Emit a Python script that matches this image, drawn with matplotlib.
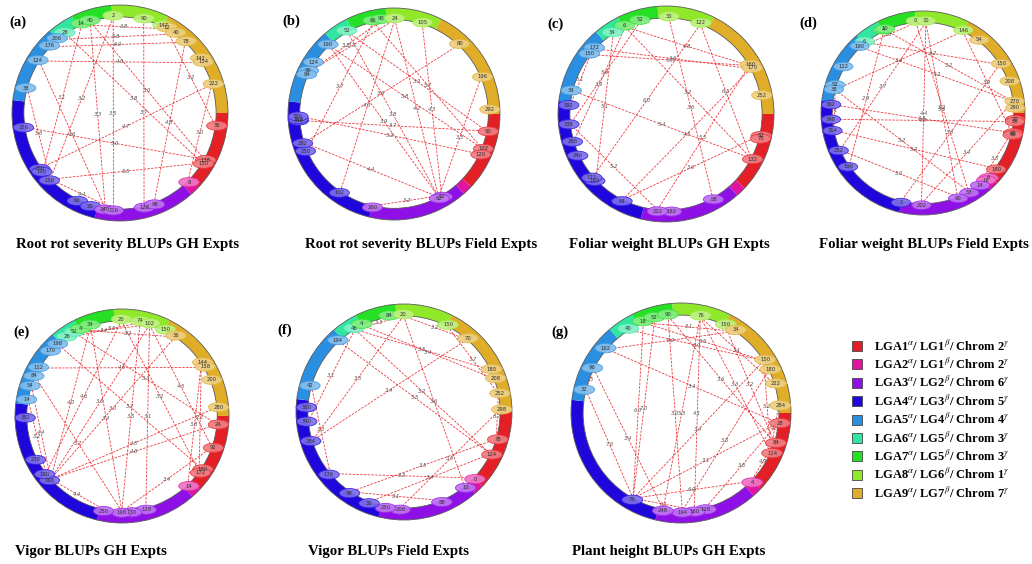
import numpy as np
import matplotlib
matplotlib.use("Agg")
import matplotlib.pyplot as plt
from matplotlib.patches import Wedge, Ellipse, Rectangle
from matplotlib.colors import to_rgb

plt.rcParams['mathtext.fontset'] = 'stix'
SERIF = ['Liberation Serif', 'DejaVu Serif']

# linkage groups (cM lengths) in drawing order, clockwise from 3 o'clock
lg_lengths = [208, 26, 262, 400, 205, 67, 105, 148, 305]
lg_colours = ['#e41f26', '#e2139f', '#8f10e6', '#1f06dc', '#2a8fe0',
              '#30e6a0', '#25e025', '#90e82a', '#e0ad28']
lg_legend = [
    r'LGA1$^{\alpha}$/ LG1$^{\beta}$/ Chrom 2$^{\gamma}$',
    r'LGA2$^{\alpha}$/ LG1$^{\beta}$/ Chrom 2$^{\gamma}$',
    r'LGA3$^{\alpha}$/ LG2$^{\beta}$/ Chrom 6$^{\gamma}$',
    r'LGA4$^{\alpha}$/ LG3$^{\beta}$/ Chrom 5$^{\gamma}$',
    r'LGA5$^{\alpha}$/ LG4$^{\beta}$/ Chrom 4$^{\gamma}$',
    r'LGA6$^{\alpha}$/ LG5$^{\beta}$/ Chrom 3$^{\gamma}$',
    r'LGA7$^{\alpha}$/ LG5$^{\beta}$/ Chrom 3$^{\gamma}$',
    r'LGA8$^{\alpha}$/ LG6$^{\beta}$/ Chrom 1$^{\gamma}$',
    r'LGA9$^{\alpha}$/ LG7$^{\beta}$/ Chrom 7$^{\gamma}$',
]

# markers: (linkage group, position cM); links: (marker, marker, LOD)
panel_a_markers = [(8, 2), (8, 90), (8, 147), (7, 14), (7, 40), (6, 28), (5, 206), (5, 176),
                   (5, 124), (5, 38), (4, 326), (4, 200), (4, 190), (4, 158), (4, 60), (4, 20),
                   (3, 240), (3, 216), (3, 128), (3, 98), (2, 8), (1, 36), (1, 138), (1, 150),
                   (9, 12), (9, 40), (9, 78), (9, 141), (9, 154), (9, 222)]
panel_a_links = [((7, 14), (9, 12), 3.8), ((5, 206), (9, 40), 5.8), ((5, 176), (9, 78), 6.0),
                 ((5, 124), (9, 154), 4.0), ((7, 14), (4, 190), 3.1), ((8, 2), (4, 158), 3.2),
                 ((7, 40), (3, 240), 3.3), ((8, 2), (3, 216), 3.5), ((8, 90), (3, 128), 3.7),
                 ((6, 28), (1, 150), 3.8), ((4, 200), (9, 222), 4.7), ((5, 124), (3, 240), 4.6),
                 ((5, 38), (4, 158), 5.6), ((4, 326), (1, 138), 5.0), ((4, 158), (1, 150), 5.5),
                 ((9, 222), (2, 8), 3.0), ((9, 78), (3, 98), 4.8), ((9, 12), (1, 36), 3.2),
                 ((7, 40), (1, 138), 3.0), ((4, 158), (3, 216), 4.4)]

panel_b_markers = [(6, 52), (7, 66), (7, 90), (8, 24), (8, 105), (9, 80), (9, 196), (9, 292),
                   (1, 50), (1, 102), (1, 120), (3, 52), (3, 62), (3, 260), (4, 102), (4, 258),
                   (4, 282), (4, 348), (4, 352), (4, 360), (5, 190), (5, 124), (5, 96), (5, 84)]
panel_b_links = [((6, 52), (1, 50), 3.9), ((5, 190), (1, 102), 3.8), ((5, 190), (3, 62), 3.9),
                 ((5, 96), (8, 24), 3.3), ((5, 96), (7, 90), 3.2), ((4, 360), (1, 120), 5.2),
                 ((4, 282), (9, 80), 3.6), ((4, 282), (3, 62), 4.4), ((4, 102), (8, 24), 4.0),
                 ((3, 260), (3, 52), 3.2), ((8, 24), (3, 62), 4.2), ((8, 105), (3, 52), 4.3),
                 ((7, 66), (1, 102), 5.7), ((9, 196), (3, 62), 3.5), ((7, 66), (4, 258), 3.7),
                 ((4, 348), (1, 50), 3.7), ((6, 52), (3, 62), 3.8)]

panel_c_markers = [(7, 6), (7, 52), (6, 34), (8, 30), (8, 122), (9, 160), (9, 170), (9, 252),
                   (1, 62), (1, 70), (1, 132), (3, 58), (3, 182), (3, 222), (4, 64), (4, 160),
                   (4, 172), (4, 246), (4, 288), (4, 338), (4, 392), (5, 172), (5, 150), (5, 34)]
panel_c_links = [((5, 150), (9, 160), 5.7), ((7, 6), (9, 160), 4.8), ((5, 172), (9, 170), 3.6),
                 ((7, 6), (4, 288), 3.9), ((7, 52), (4, 338), 5.9), ((5, 150), (4, 392), 5.1),
                 ((7, 6), (1, 132), 3.2), ((8, 122), (1, 132), 6.5), ((4, 172), (8, 122), 6.0),
                 ((8, 30), (3, 58), 3.6), ((5, 34), (1, 132), 5.4), ((4, 64), (9, 170), 4.5),
                 ((3, 222), (9, 160), 5.5), ((4, 64), (1, 62), 3.6), ((4, 338), (3, 222), 5.2),
                 ((6, 34), (4, 160), 5.1)]

panel_d_markers = [(7, 4), (7, 10), (6, 6), (8, 0), (8, 30), (8, 146), (9, 54), (9, 150),
                   (9, 208), (9, 270), (9, 290), (1, 20), (1, 26), (1, 60), (1, 66), (1, 180),
                   (2, 6), (2, 16), (3, 14), (3, 53), (3, 90), (3, 202), (4, 2), (4, 196),
                   (4, 252), (4, 314), (4, 348), (4, 392), (5, 190), (5, 112), (5, 52), (5, 38)]
panel_d_links = [((8, 0), (5, 190), 3.6), ((6, 6), (9, 150), 5.2), ((7, 10), (9, 270), 3.2),
                 ((5, 190), (9, 270), 5.2), ((8, 146), (5, 38), 3.4), ((8, 30), (4, 252), 3.7),
                 ((7, 4), (4, 196), 2.9), ((8, 146), (1, 60), 3.9), ((5, 38), (4, 314), 5.1),
                 ((8, 30), (3, 202), 4.4), ((8, 30), (3, 90), 5.3), ((8, 0), (3, 53), 5.2),
                 ((4, 392), (1, 60), 3.3), ((4, 348), (1, 26), 4.3), ((9, 150), (4, 2), 3.3),
                 ((9, 270), (3, 202), 3.4), ((1, 60), (3, 14), 3.5), ((4, 252), (3, 90), 5.0),
                 ((4, 314), (1, 180), 3.2), ((5, 38), (3, 53), 3.2)]

panel_e_markers = [(6, 26), (6, 52), (7, 4), (7, 34), (8, 20), (8, 74), (8, 102), (8, 150),
                   (9, 36), (9, 144), (9, 158), (9, 200), (9, 280), (1, 24), (1, 92), (1, 160),
                   (1, 172), (2, 14), (3, 128), (3, 170), (3, 198), (3, 250), (4, 168), (4, 190),
                   (4, 238), (4, 362), (5, 14), (5, 54), (5, 84), (5, 112), (5, 170), (5, 198)]
panel_e_links = [((6, 52), (8, 102), 5.5), ((7, 4), (9, 36), 3.2), ((6, 26), (8, 74), 3.4),
                 ((5, 112), (9, 158), 4.5), ((6, 52), (1, 24), 3.3), ((8, 20), (1, 172), 3.2),
                 ((5, 198), (1, 160), 3.7), ((7, 34), (4, 168), 4.0), ((8, 20), (4, 190), 4.6),
                 ((7, 34), (3, 198), 3.4), ((8, 102), (4, 168), 3.5), ((9, 36), (4, 168), 3.0),
                 ((8, 102), (3, 128), 3.1), ((8, 74), (3, 198), 3.5), ((9, 144), (1, 172), 2.2),
                 ((9, 144), (2, 14), 3.8), ((4, 168), (1, 24), 4.6), ((4, 168), (9, 280), 4.5),
                 ((5, 54), (4, 168), 4.4), ((5, 14), (4, 190), 3.2), ((5, 84), (3, 198), 3.7),
                 ((1, 92), (3, 198), 3.4), ((4, 168), (3, 250), 4.4), ((3, 198), (3, 128), 3.3),
                 ((8, 102), (1, 92), 4.5)]

panel_f_markers = [(6, 46), (7, 4), (7, 84), (8, 20), (8, 150), (9, 70), (9, 180), (9, 208),
                   (9, 252), (9, 298), (1, 78), (1, 124), (2, 0), (3, 10), (3, 88), (3, 208),
                   (3, 250), (4, 36), (4, 98), (4, 176), (4, 284), (4, 340), (4, 380), (5, 42),
                   (5, 194)]
panel_f_links = [((6, 46), (8, 20), 3.3), ((8, 20), (9, 70), 3.2), ((6, 46), (9, 180), 3.5),
                 ((7, 4), (9, 208), 3.4), ((8, 150), (9, 252), 3.7), ((6, 46), (4, 340), 3.1),
                 ((8, 20), (4, 284), 3.5), ((9, 70), (4, 284), 3.4), ((5, 194), (1, 124), 3.5),
                 ((8, 20), (3, 10), 3.6), ((6, 46), (1, 124), 3.2), ((9, 252), (1, 78), 3.7),
                 ((5, 42), (4, 176), 3.3), ((1, 78), (4, 98), 3.5), ((9, 298), (3, 208), 3.5),
                 ((1, 124), (4, 36), 3.4), ((4, 176), (2, 0), 3.3), ((4, 98), (3, 88), 3.1)]

panel_g_markers = [(6, 40), (7, 18), (7, 52), (7, 90), (8, 76), (8, 150), (9, 34), (9, 150),
                   (9, 180), (9, 222), (9, 284), (1, 28), (1, 84), (1, 114), (2, 4), (3, 128),
                   (3, 160), (3, 194), (3, 248), (4, 76), (5, 162), (5, 96), (5, 32)]
panel_g_links = [((7, 18), (9, 34), 3.1), ((6, 40), (9, 150), 6.0), ((5, 162), (9, 34), 6.2),
                 ((5, 162), (1, 28), 3.4), ((7, 18), (4, 76), 6.0), ((7, 52), (4, 76), 7.0),
                 ((5, 32), (4, 76), 7.6), ((5, 96), (5, 32), 3.5), ((7, 90), (3, 194), 3.0),
                 ((8, 76), (3, 248), 5.5), ((8, 76), (3, 160), 4.1), ((9, 180), (3, 194), 3.5),
                 ((7, 90), (1, 84), 3.6), ((8, 76), (1, 114), 3.3), ((8, 150), (1, 84), 3.2),
                 ((7, 18), (9, 150), 3.6), ((8, 76), (9, 222), 3.1), ((9, 150), (1, 114), 5.2),
                 ((9, 284), (1, 114), 4.3), ((1, 84), (2, 4), 4.9), ((9, 150), (4, 76), 3.4),
                 ((1, 28), (4, 76), 3.1), ((1, 28), (3, 128), 3.6), ((2, 4), (4, 76), 6.0),
                 ((4, 76), (3, 160), 3.1), ((5, 96), (3, 248), 3.4)]

panels = [
    # tag, title, markers, links, centre x, centre y, radius (px), title x, title y, title align
    ('(a)', 'Root rot severity BLUPs GH Expts', panel_a_markers, panel_a_links, 120, 113, 108, 128, 244, 'center'),
    ('(b)', 'Root rot severity BLUPs Field Expts', panel_b_markers, panel_b_links, 394, 114, 106, 421, 244, 'center'),
    ('(c)', 'Foliar weight BLUPs GH Expts', panel_c_markers, panel_c_links, 666, 114, 108, 669, 244, 'center'),
    ('(d)', 'Foliar weight BLUPs Field Expts', panel_d_markers, panel_d_links, 923, 113, 102, 924, 244, 'center'),
    ('(e)', 'Vigor BLUPs GH Expts', panel_e_markers, panel_e_links, 122, 416, 107, 15, 551, 'left'),
    ('(f)', 'Vigor BLUPs Field Expts', panel_f_markers, panel_f_links, 404, 412, 108, 389, 551, 'center'),
    ('(g)', 'Plant height BLUPs GH Expts', panel_g_markers, panel_g_links, 681, 413, 110, 669, 551, 'center'),
]
tag_pos = [(18, 22), (291, 21), (556, 24), (808, 23), (22, 332), (285, 330), (560, 332)]

W, H = 1032, 564
total = sum(lg_lengths)
starts = np.concatenate([[0], np.cumsum(lg_lengths)[:-1]])


def angle(lg, cm):
    # clockwise degrees from 3 o'clock
    return (starts[lg - 1] + cm) * 360.0 / total


def xy(r, ang):
    a = np.radians(-ang)
    return r * np.cos(a), r * np.sin(a)


def lighten(c, f):
    rgb = np.array(to_rgb(c))
    return tuple(rgb + (1 - rgb) * f)


def draw_panel(ax, markers, links):
    for i, length in enumerate(lg_lengths):
        a0 = starts[i] * 360.0 / total
        a1 = (starts[i] + length) * 360.0 / total
        ax.add_patch(Wedge((0, 0), 1.0, -a1, -a0, width=0.11, facecolor=lg_colours[i],
                           edgecolor='none', zorder=2))
    # thin dark rim around the ring
    ax.add_patch(Wedge((0, 0), 1.0, 0, 360, width=0.11, facecolor='none',
                       edgecolor='#5a5a5a', linewidth=0.6, zorder=2.1))
    for m1, m2, lod in links:
        x1, y1 = xy(0.89, angle(*m1))
        x2, y2 = xy(0.89, angle(*m2))
        ax.plot([x1, x2], [y1, y2], color='#e8262b', lw=0.6, ls=(0, (3, 1.5)), alpha=0.9, zorder=1)
        ax.text((x1 + x2) / 2, (y1 + y2) / 2, f'{lod:.1f}', fontsize=3.8, color='#555555',
                style='italic', ha='center', va='center', zorder=1.5)
    for lg, cm in markers:
        x, y = xy(0.905, angle(lg, cm))
        col = lg_colours[lg - 1]
        ax.add_patch(Ellipse((x, y), 0.19, 0.085, facecolor=lighten(col, 0.42),
                             edgecolor=lighten(col, 0.1), linewidth=0.6, alpha=0.92, zorder=3))
        ax.text(x, y, str(cm), fontsize=3.8, color='#333333', ha='center', va='center', zorder=4)


fig = plt.figure(figsize=(W / 100, H / 100), dpi=100)

for (tag, title, markers, links, cx, cy, R, tx, ty, tha), (lx, ly) in zip(panels, tag_pos):
    e = 1.08 * R
    ax = fig.add_axes([(cx - e) / W, 1 - (cy + e) / H, 2 * e / W, 2 * e / H])
    ax.set_xlim(-1.08, 1.08)
    ax.set_ylim(-1.08, 1.08)
    ax.set_aspect('equal')
    ax.axis('off')
    draw_panel(ax, markers, links)
    fig.text(lx / W, 1 - ly / H, tag, family=SERIF, weight='bold', fontsize=10.5,
             ha='center', va='center')
    fig.text(tx / W, 1 - ty / H, title, family=SERIF, weight='bold', fontsize=10.7,
             ha=tha, va='center')

# legend of linkage groups
for i, (col, lab) in enumerate(zip(lg_colours, lg_legend)):
    y = 346 + i * 18.4
    fig.patches.append(Rectangle((852 / W, 1 - (y + 5) / H), 10 / W, 10 / H, facecolor=col,
                                 edgecolor='#444444', linewidth=0.6, transform=fig.transFigure))
    fig.text(874 / W, 1 - y / H, lab, family=SERIF, weight='bold', fontsize=9,
             ha='left', va='center')

fig.savefig('out.png', dpi=100)
